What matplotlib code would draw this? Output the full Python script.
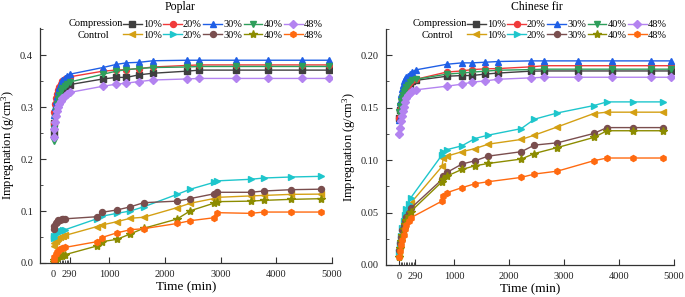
import numpy as np
import matplotlib
matplotlib.use("Agg")
import matplotlib.pyplot as plt
from matplotlib.ticker import FixedLocator, MultipleLocator, FuncFormatter

plt.rcParams['font.family'] = ['Liberation Serif', 'DejaVu Serif']
plt.rcParams['mathtext.fontset'] = 'custom'
plt.rcParams['mathtext.rm'] = 'Liberation Serif'
plt.rcParams['mathtext.it'] = 'Liberation Serif:italic'

levels = ['10%', '20%', '30%', '40%', '48%']

# --- Poplar ---
pop_comp_t = [5, 20, 35, 50, 65, 80, 100, 130, 160, 200, 240, 290,
              890, 1130, 1310, 1540, 1790, 2400, 2620, 3270, 3860, 4460, 4940]
pop_comp = {
    '10%': [0.250, 0.270, 0.287, 0.300, 0.310, 0.318, 0.324, 0.330, 0.334, 0.338, 0.341, 0.343,
            0.354, 0.357, 0.357, 0.362, 0.365, 0.369, 0.371, 0.371, 0.371, 0.371, 0.371],
    '20%': [0.270, 0.290, 0.305, 0.317, 0.326, 0.333, 0.339, 0.345, 0.350, 0.353, 0.356, 0.358,
            0.369, 0.371, 0.372, 0.374, 0.377, 0.380, 0.381, 0.381, 0.381, 0.381, 0.381],
    '30%': [0.265, 0.285, 0.300, 0.312, 0.322, 0.331, 0.339, 0.346, 0.352, 0.356, 0.360, 0.363,
            0.376, 0.382, 0.385, 0.386, 0.389, 0.390, 0.390, 0.390, 0.390, 0.390, 0.390],
    '40%': [0.235, 0.258, 0.278, 0.293, 0.305, 0.315, 0.323, 0.330, 0.336, 0.341, 0.345, 0.348,
            0.363, 0.369, 0.372, 0.374, 0.376, 0.377, 0.378, 0.378, 0.378, 0.378, 0.378],
    '48%': [0.243, 0.258, 0.272, 0.283, 0.292, 0.300, 0.306, 0.312, 0.317, 0.321, 0.325, 0.328,
            0.340, 0.344, 0.346, 0.349, 0.352, 0.354, 0.355, 0.355, 0.355, 0.355, 0.355],
}
pop_ctrl_t = [5, 20, 40, 60, 90, 120, 150, 180, 210,
              780, 870, 1140, 1380, 1620, 2220, 2460, 2880, 2940, 3540, 3780, 4260, 4800]
pop_ctrl = {
    '10%': [0.033, 0.039, 0.043, 0.046, 0.049, 0.050, 0.051, 0.052, 0.053,
            0.070, 0.073, 0.0795, 0.086, 0.088, 0.1065, 0.115, 0.124, 0.1263, 0.129, 0.130, 0.132, 0.1325],
    '20%': [0.048, 0.052, 0.055, 0.057, 0.059, 0.061, 0.062, 0.063, 0.064,
            0.085, 0.090, 0.0955, 0.100, 0.108, 0.132, 0.142, 0.155, 0.158, 0.161, 0.1635, 0.1654, 0.1667],
    '30%': [0.065, 0.071, 0.076, 0.079, 0.082, 0.083, 0.084, 0.085, 0.085,
            0.089, 0.0975, 0.102, 0.108, 0.116, 0.119, 0.124, 0.133, 0.136, 0.136, 0.1385, 0.141, 0.142],
    '40%': [0.002, 0.005, 0.008, 0.010, 0.012, 0.013, 0.014, 0.015, 0.016,
            0.0327, 0.041, 0.0455, 0.0558, 0.0667, 0.0846, 0.1006, 0.115, 0.118, 0.119, 0.1205, 0.1224, 0.1237],
    '48%': [0.005, 0.012, 0.017, 0.021, 0.024, 0.026, 0.028, 0.029, 0.030,
            0.041, 0.049, 0.058, 0.064, 0.066, 0.076, 0.0814, 0.087, 0.0968, 0.0955, 0.098, 0.098, 0.098],
}

# --- Chinese fir ---
fir_comp_t = [5, 20, 35, 50, 65, 80, 100, 130, 160, 200, 240, 300,
              870, 1140, 1320, 1560, 1800, 2390, 2640, 3260, 3870, 4590, 4940]
fir_comp = {
    '10%': [0.140, 0.148, 0.153, 0.157, 0.160, 0.163, 0.166, 0.169, 0.171, 0.173, 0.175, 0.176,
            0.180, 0.1806, 0.1806, 0.182, 0.183, 0.1848, 0.185, 0.185, 0.185, 0.185, 0.185],
    '20%': [0.140, 0.148, 0.153, 0.157, 0.161, 0.164, 0.167, 0.170, 0.172, 0.174, 0.176, 0.177,
            0.184, 0.185, 0.1863, 0.187, 0.1873, 0.1889, 0.190, 0.190, 0.190, 0.190, 0.190],
    '30%': [0.138, 0.155, 0.163, 0.168, 0.172, 0.175, 0.177, 0.179, 0.180, 0.182, 0.184, 0.186,
            0.1914, 0.1927, 0.1927, 0.1933, 0.194, 0.1946, 0.1946, 0.1946, 0.1946, 0.1946, 0.1946],
    '40%': [0.146, 0.152, 0.156, 0.159, 0.162, 0.165, 0.167, 0.170, 0.172, 0.174, 0.176, 0.177,
            0.182, 0.183, 0.1838, 0.1848, 0.1857, 0.1863, 0.1867, 0.1867, 0.1867, 0.1867, 0.1867],
    '48%': [0.125, 0.131, 0.137, 0.142, 0.147, 0.151, 0.155, 0.159, 0.162, 0.164, 0.166, 0.167,
            0.1705, 0.1724, 0.1743, 0.1755, 0.1771, 0.1784, 0.179, 0.179, 0.179, 0.179, 0.179],
}
fir_ctrl_t = [5, 20, 40, 60, 80, 100, 130, 170, 210,
              780, 800, 870, 1140, 1380, 1620, 2220, 2460, 2880, 3540, 3780, 4260, 4800]
fir_ctrl = {
    '10%': [0.010, 0.018, 0.026, 0.033, 0.039, 0.045, 0.050, 0.055, 0.059,
            0.094, 0.1016, 0.1038, 0.108, 0.111, 0.1152, 0.1197, 0.1238, 0.1317, 0.1444, 0.1457, 0.1457, 0.1457],
    '20%': [0.012, 0.020, 0.028, 0.035, 0.042, 0.048, 0.053, 0.058, 0.064,
            0.105, 0.108, 0.110, 0.1136, 0.1206, 0.1238, 0.130, 0.139, 0.145, 0.152, 0.1555, 0.1555, 0.1555],
    '30%': [0.014, 0.021, 0.027, 0.033, 0.038, 0.042, 0.046, 0.050, 0.054,
            0.0816, 0.0848, 0.0883, 0.0962, 0.0994, 0.1038, 0.108, 0.1143, 0.1165, 0.1254, 0.131, 0.131, 0.131],
    '40%': [0.008, 0.016, 0.023, 0.029, 0.034, 0.039, 0.043, 0.047, 0.051,
            0.0794, 0.0816, 0.0848, 0.0911, 0.0946, 0.0968, 0.101, 0.1063, 0.112, 0.1216, 0.128, 0.128, 0.128],
    '48%': [0.008, 0.013, 0.019, 0.024, 0.029, 0.034, 0.038, 0.042, 0.045,
            0.061, 0.0657, 0.069, 0.0737, 0.0775, 0.0794, 0.0835, 0.0867, 0.0895, 0.0994, 0.102, 0.102, 0.102],
}

comp_style = {
    '10%': ('#3f3f3f', 's'),
    '20%': ('#f03a3a', 'o'),
    '30%': ('#1f5fe6', '^'),
    '40%': ('#2e9e5b', 'v'),
    '48%': ('#b383f0', 'D'),
}
ctrl_style = {
    '10%': ('#d4a014', '<'),
    '20%': ('#1ec6cc', '>'),
    '30%': ('#7a4e4e', 'o'),
    '40%': ('#8c8c00', '*'),
    '48%': ('#ff6a10', 'h'),
}

fig = plt.figure(figsize=(6.85, 2.97), dpi=100)
ax1 = fig.add_axes([40/685, 1-263/297, 292/685, 235/297])
ax2 = fig.add_axes([386/685, 1-265/297, 288/685, 236/297])


def draw(ax, ct, comp, kt, ctrl, title, ymax, ymajor, leg_x, lab_x, title_x):
    handles = []
    for lv in levels:
        c, m = comp_style[lv]
        ms = 4.3 if m != 'D' else 3.8
        h1, = ax.plot(ct, comp[lv], color=c, marker=m, ms=ms, lw=1, label=lv)
        c, m = ctrl_style[lv]
        ms = 4.3 if m != '*' else 6
        h2, = ax.plot(kt, ctrl[lv], color=c, marker=m, ms=ms, lw=1, label=lv)
        handles += [h1, h2]
    ax.set_xlim(-240, 5000)
    ax.set_ylim(0, ymax)
    ax.spines['top'].set_visible(False)
    ax.spines['right'].set_visible(False)
    for s in ('left', 'bottom'):
        ax.spines[s].set_color('#333333')
        ax.spines[s].set_linewidth(0.9)
    ax.set_xticks([0, 290, 1000, 2000, 3000, 4000, 5000])
    ax.xaxis.set_minor_locator(FixedLocator(np.arange(30, 290, 30)))
    ax.yaxis.set_major_locator(MultipleLocator(ymajor))
    ax.yaxis.set_minor_locator(MultipleLocator(ymajor / 2))
    ax.tick_params(which='both', direction='in', labelsize=7.5, color='#333333',
                   labelcolor='#222222')
    ax.tick_params(which='major', length=4, pad=5)
    ax.tick_params(which='minor', length=2)
    ax.set_xlabel('Time (min)', fontsize=9.5, labelpad=2)
    ax.set_ylabel('Impregnation (g/cm$^3$)', fontsize=9, labelpad=2)
    fig.text(title_x / 685, 1 - 7 / 297, title, fontsize=8.5, ha='center', va='center')
    fig.legend(handles=handles, ncol=5, loc='center left',
               bbox_to_anchor=(leg_x / 685, 1 - 30 / 297), frameon=False,
               fontsize=7.5, handlelength=1.8, handletextpad=0.1,
               columnspacing=0.15, borderpad=0, labelspacing=0.15,
               borderaxespad=0)
    fig.text(lab_x / 685, 1 - 24 / 297, 'Compression', fontsize=7.5,
             ha='right', va='center')
    fig.text((lab_x - 14) / 685, 1 - 35 / 297, 'Control', fontsize=7.5,
             ha='right', va='center')


draw(ax1, pop_comp_t, pop_comp, pop_ctrl_t, pop_ctrl, 'Poplar', 0.452, 0.1, 123, 123, 180)
draw(ax2, fir_comp_t, fir_comp, fir_ctrl_t, fir_ctrl, 'Chinese fir', 0.225, 0.05, 467, 467, 537)

ax1.yaxis.set_major_formatter(FuncFormatter(lambda v, p: f'{v:.1f}'))
ax2.yaxis.set_major_formatter(FuncFormatter(lambda v, p: f'{v:.2f}'))

fig.savefig('out.png', dpi=100)
